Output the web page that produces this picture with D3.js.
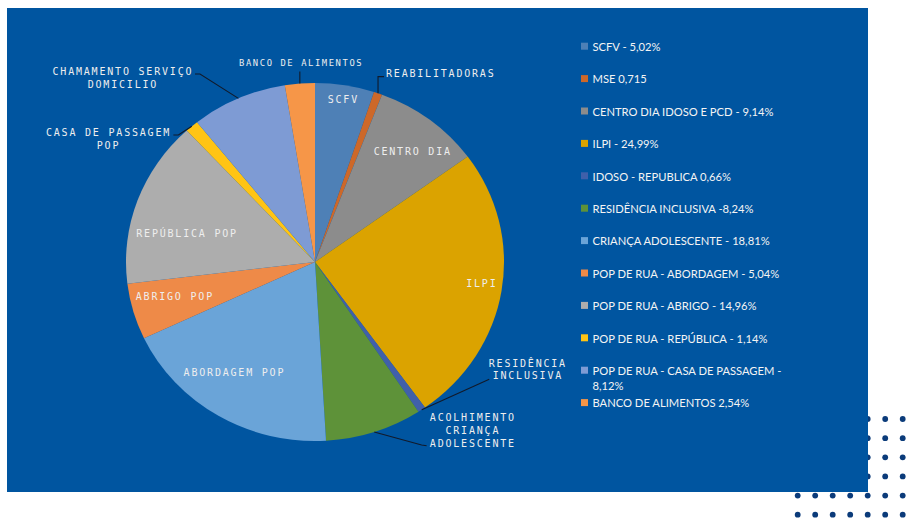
<!DOCTYPE html>
<html>
<head>
<meta charset="utf-8">
<script src="https://cdn.jsdelivr.net/npm/d3@7"></script>
<style>
  html, body { margin: 0; padding: 0; background: #ffffff; }
  svg { display: block; }
</style>
</head>
<body>
<svg id="chart" width="907" height="520"></svg>
<script>
// Service shares (percent), in slice order starting at 12 o'clock, clockwise
const legendLabels = [
  "SCFV - 5,02%",
  "MSE 0,715",
  "CENTRO DIA IDOSO E PCD - 9,14%",
  "ILPI - 24,99%",
  "IDOSO - REPUBLICA 0,66%",
  "RESIDÊNCIA INCLUSIVA -8,24%",
  "CRIANÇA ADOLESCENTE - 18,81%",
  "POP DE RUA - ABORDAGEM - 5,04%",
  "POP DE RUA - ABRIGO - 14,96%",
  "POP DE RUA - REPÚBLICA - 1,14%",
  "POP DE RUA - CASA DE PASSAGEM -\n8,12%",
  "BANCO DE ALIMENTOS 2,54%"
];
const values = [5.02, 0.715, 9.14, 24.99, 0.66, 8.24, 18.81, 5.04, 14.96, 1.14, 8.12, 2.54];
const sliceLabels = [
  ["SCFV"],
  ["REABILITADORAS"],
  ["CENTRO DIA"],
  ["ILPI"],
  ["RESIDÊNCIA", "INCLUSIVA"],
  ["ACOLHIMENTO", "CRIANÇA", "ADOLESCENTE"],
  ["ABORDAGEM POP"],
  ["ABRIGO POP"],
  ["REPÚBLICA POP"],
  ["CASA DE PASSAGEM", "POP"],
  ["CHAMAMENTO SERVIÇO", "DOMICILIO"],
  ["BANCO DE ALIMENTOS"]
];
const colors = [
  "#4e80b6", "#cd6829", "#8c8c8c", "#dba300", "#4060aa", "#5e9239",
  "#6aa4d8", "#ee8a48", "#adadad", "#ffc414", "#7e9bd4", "#f69648"
];

// Label placement: inside labels use a radius fraction + angle shift (deg);
// outside labels use offsets from the slice's rim point, with a leader path.
const labelLayout = [
  { r: 0.92, da: 0 },
  { out: true, text: [8, -20.6], anchor: "start", path: [[0, -16.6], [6, -16.6]] },
  { r: 0.805, da: 2.2 },
  { r: 0.886, da: -1.5 },
  { out: true, text: [105.2, -47], anchor: "middle", path: [[67.5, -30.4]] },
  { out: true, text: [97.7, -14.6], anchor: "middle", path: [[47.4, 13.1], [52.4, 13.8]] },
  { r: 0.749, da: 4.4 },
  { r: 0.77, da: 1.8 },
  { r: 0.70, da: -7 },
  { out: true, text: [-84.2, 6], anchor: "middle", path: [[-13.4, 8.7], [-18.4, 8.7]] },
  { out: true, text: [-116.4, -27.3], anchor: "middle", path: [[-38.4, -24.3], [-43.4, -24.3]] },
  { out: true, text: [0.5, -20.3], anchor: "middle", path: [[0, -12]], size: 8.8, spacing: 1.6 }
];

const svg = d3.select("#chart");

// Decorative dot grid behind the panel
const dotCols = d3.range(7), dotRows = d3.range(6);
const dotX = d3.scaleLinear().domain([0, 6]).range([797.7, 902.7]);
const dotY = d3.scaleLinear().domain([0, 5]).range([419, 514.7]);
svg.append("g").selectAll("circle")
  .data(d3.cross(dotCols, dotRows))
  .join("circle")
  .attr("cx", d => dotX(d[0]))
  .attr("cy", d => dotY(d[1]))
  .attr("r", 2.9)
  .attr("fill", "#0b3b7a");

// Blue panel
svg.append("rect")
  .attr("x", 7).attr("y", 8)
  .attr("width", 861).attr("height", 484)
  .attr("fill", "#0055a0");

// Pie (drawn slightly wider than tall)
const cx = 315, cy = 262, rx = 189, ry = 179;
const pie = d3.pie().sort(null).value(d => d)(values);
const arc = d3.arc().innerRadius(0).outerRadius(ry);

svg.append("g")
  .attr("transform", `translate(${cx},${cy}) scale(${rx / ry},1)`)
  .selectAll("path")
  .data(pie)
  .join("path")
  .attr("d", arc)
  .attr("fill", (d, i) => colors[i]);

const rad = Math.PI / 180;
function pt(a, r) {
  return [cx + rx * r * Math.sin(a), cy - ry * r * Math.cos(a)];
}

const labelG = svg.append("g")
  .attr("font-family", "'DejaVu Sans Mono', monospace")
  .attr("fill", "#eeeeee");

const lineH = 12.7;
pie.forEach((d, i) => {
  const lay = labelLayout[i];
  const mid = (d.startAngle + d.endAngle) / 2;
  const lines = sliceLabels[i];
  const size = lay.size || 10;
  const spacing = lay.spacing || 1.8;
  let tx, ty, anchor;
  if (lay.out) {
    const rim = pt(mid, 1);
    const pts = [rim].concat(lay.path.map(o => [rim[0] + o[0], rim[1] + o[1]]));
    svg.append("path")
      .attr("d", d3.line()(pts))
      .attr("fill", "none")
      .attr("stroke", "#111a2a")
      .attr("stroke-width", 1.1);
    tx = rim[0] + lay.text[0];
    ty = rim[1] + lay.text[1];
    anchor = lay.anchor;
  } else {
    [tx, ty] = pt(mid + lay.da * rad, lay.r);
    anchor = "middle";
  }
  const shift = anchor === "middle" ? spacing / 2 : 0;
  const t = labelG.append("text")
    .attr("font-size", size)
    .attr("letter-spacing", spacing + "px")
    .attr("text-anchor", anchor)
    .attr("dominant-baseline", "central");
  lines.forEach((s, k) => {
    t.append("tspan")
      .attr("x", tx + shift)
      .attr("y", ty + k * lineH)
      .text(s);
  });
});

// Legend
const legY = d3.scaleLinear().domain([0, 11]).range([46, 402.4]);
const leg = svg.append("g")
  .attr("font-family", "Lato, 'Open Sans', sans-serif")
  .attr("font-size", 11.2)
  .attr("fill", "#f4f4f4");
legendLabels.forEach((s, i) => {
  const y = legY(i);
  leg.append("rect")
    .attr("x", 581).attr("y", y - 3.3)
    .attr("width", 7).attr("height", 7)
    .attr("fill", colors[i]);
  const t = leg.append("text").attr("dominant-baseline", "central");
  s.split("\n").forEach((part, k) => {
    t.append("tspan").attr("x", 592.5).attr("y", y + k * 14.7).text(part);
  });
});
</script>
</body>
</html>
